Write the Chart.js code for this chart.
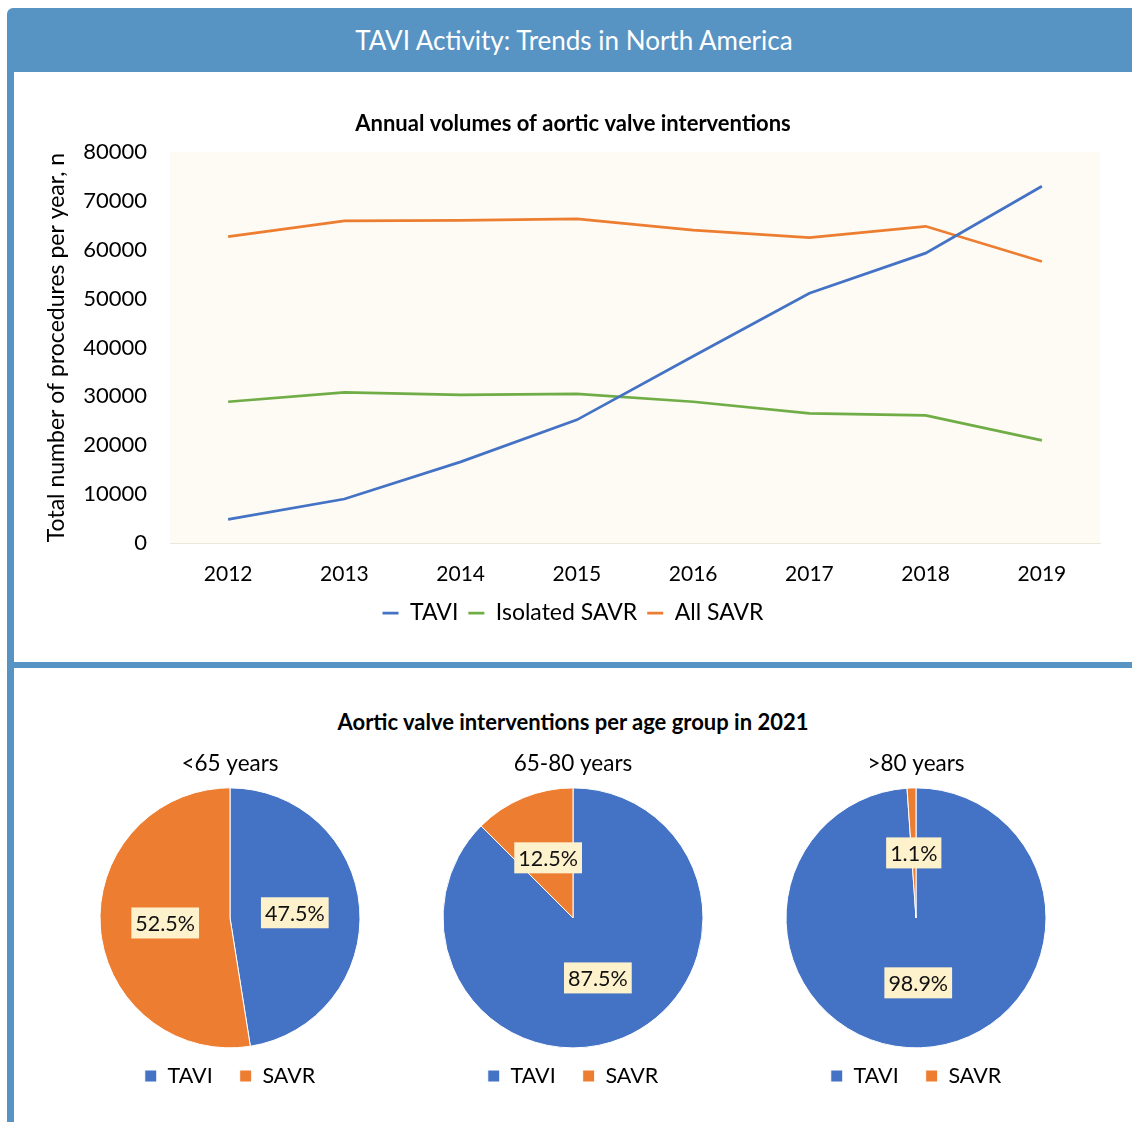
<!DOCTYPE html>
<html>
<head>
<meta charset="utf-8">
<script src="https://cdn.jsdelivr.net/npm/chart.js@4.4.0/dist/chart.umd.min.js"></script>
<style>
  body {
    margin: 0;
    width: 1132px;
    height: 1122px;
    position: relative;
    overflow: hidden;
    background: #fff;
    font-family: Lato, "Open Sans", sans-serif;
  }
  .edge {
    position: absolute;
    left: 7px;
    top: 14px;
    width: 7px;
    height: 1108px;
    background: #5793c3;
  }
  .banner {
    position: absolute;
    left: 7px;
    top: 8px;
    width: 1134px;
    height: 64px;
    background: #5793c3;
    border-top-left-radius: 6px;
    color: #fff;
    font-size: 26px;
    line-height: 64px;
    text-align: center;
  }
  .divider {
    position: absolute;
    left: 7px;
    top: 662px;
    width: 1125px;
    height: 6px;
    background: #5793c3;
  }
  .heading {
    position: absolute;
    left: 0;
    top: 708px;
    width: 1146px;
    text-align: center;
    font-weight: bold;
    font-size: 22px;
  }
  canvas { position: absolute; }
</style>
</head>
<body>
<div class="edge"></div>
<div class="banner">TAVI Activity: Trends in North America</div>
<div class="divider"></div>
<div class="heading">Aortic valve interventions per age group in 2021</div>

<canvas id="trend" width="1118" height="560" style="left:14px; top:90px;"></canvas>
<canvas id="pie1" width="300" height="360" style="left:80px; top:740px;"></canvas>
<canvas id="pie2" width="300" height="360" style="left:423px; top:740px;"></canvas>
<canvas id="pie3" width="300" height="360" style="left:766px; top:740px;"></canvas>

<script>
// annual volumes, North America
var years = ['2012', '2013', '2014', '2015', '2016', '2017', '2018', '2019'];
var tavi = [4850, 9000, 16600, 25200, 38200, 51100, 59300, 73000];
var isolatedSavr = [28900, 30800, 30300, 30500, 28900, 26500, 26100, 21000];
var allSavr = [62700, 65900, 66000, 66300, 64000, 62500, 64800, 57600];

// 2021 split by age group, percent
var pieLabels = ['TAVI', 'SAVR'];
var ageGroups = ['<65 years', '65-80 years', '>80 years'];
var under65 = [47.5, 52.5];
var age65to80 = [87.5, 12.5];
var over80 = [98.9, 1.1];

var BLUE = '#4472c4', ORANGE = '#ed7d31', GREEN = '#70ad47';

Chart.defaults.font.family = 'Lato, "Open Sans", sans-serif';
Chart.defaults.color = '#000';
Chart.defaults.animation = false;

// cream fill behind the plot area
var plotBackground = {
  id: 'plotBackground',
  beforeDraw: function(chart) {
    var a = chart.chartArea, ctx = chart.ctx;
    ctx.save();
    ctx.fillStyle = '#fdfbf4';
    ctx.fillRect(a.left, a.top, a.right - a.left, a.bottom - a.top);
    ctx.restore();
  }
};

// percentage tags sitting halfway out on each slice
var sliceTags = {
  id: 'sliceTags',
  afterDatasetsDraw: function(chart) {
    var ctx = chart.ctx;
    var meta = chart.getDatasetMeta(0);
    var values = chart.data.datasets[0].data;
    ctx.save();
    ctx.font = '21.5px Lato, "Open Sans", sans-serif';
    ctx.textAlign = 'center';
    ctx.textBaseline = 'middle';
    meta.data.forEach(function(arc, i) {
      var pos = arc.tooltipPosition();
      var text = values[i].toFixed(1) + '%';
      var w = ctx.measureText(text).width + 8;
      var h = 31;
      ctx.fillStyle = '#fef2cd';
      ctx.fillRect(pos.x - w / 2, pos.y - h / 2, w, h);
      ctx.fillStyle = '#111';
      ctx.fillText(text, pos.x, pos.y + 1);
    });
    ctx.restore();
  }
};

function seriesLine(label, data, color) {
  return {
    label: label,
    data: data,
    borderColor: color,
    backgroundColor: color,
    borderWidth: 2.75,
    pointRadius: 0,
    tension: 0,
    fill: false
  };
}

new Chart(document.getElementById('trend'), {
  type: 'line',
  data: {
    labels: years,
    datasets: [
      seriesLine('TAVI', tavi, BLUE),
      seriesLine('Isolated SAVR', isolatedSavr, GREEN),
      seriesLine('All SAVR', allSavr, ORANGE)
    ]
  },
  options: {
    responsive: false,
    layout: { padding: { top: 0, right: 0, bottom: 15.5, left: 0 } },
    plugins: {
      title: {
        display: true,
        text: 'Annual volumes of aortic valve interventions',
        font: { size: 22, weight: 'bold' },
        padding: { top: 20.8, bottom: 14.8 }
      },
      legend: {
        position: 'bottom',
        labels: {
          font: { size: 23 },
          padding: 10,
          usePointStyle: true,
          pointStyle: 'line',
          pointStyleWidth: 16
        }
      },
      tooltip: { enabled: false }
    },
    scales: {
      x: {
        offset: true,
        grid: { display: false, drawTicks: false },
        border: { display: true, color: '#ebe7db' },
        ticks: { font: { size: 21 }, padding: 18.4 },
        afterFit: function(s) { s.height = 48.5; }
      },
      y: {
        min: 0,
        max: 80000,
        grid: { display: false, drawTicks: false },
        border: { display: false },
        ticks: {
          stepSize: 10000,
          font: { size: 22 },
          padding: 23,
          callback: function(v) { return String(v); }
        },
        title: {
          display: true,
          text: 'Total number of procedures per year, n',
          font: { size: 23 },
          padding: { top: 29.2, bottom: 0 }
        },
        afterFit: function(s) { s.width = 156; }
      },
      // empty strip on the right so the plot stops short of the edge
      gutter: {
        position: 'right',
        grid: { display: false, drawTicks: false },
        border: { display: false },
        ticks: { display: false },
        afterFit: function(s) { s.width = 32; }
      }
    }
  },
  plugins: [plotBackground]
});

function agePie(id, title, values) {
  new Chart(document.getElementById(id), {
    type: 'pie',
    data: {
      labels: pieLabels,
      datasets: [{
        data: values,
        backgroundColor: [BLUE, ORANGE],
        borderColor: '#fff',
        borderWidth: 1,
        radius: 130,
        clip: false
      }]
    },
    options: {
      responsive: false,
      layout: { padding: { top: 0, right: 0, bottom: 3.25, left: 0 } },
      plugins: {
        title: {
          display: true,
          text: title,
          font: { size: 22.5, weight: 'normal' },
          padding: { top: 10.5, bottom: 20 }
        },
        legend: {
          position: 'bottom',
          labels: {
            font: { size: 21.5 },
            padding: 27,
            boxWidth: 12,
            boxHeight: 12
          }
        },
        tooltip: { enabled: false }
      }
    },
    plugins: [sliceTags]
  });
}

agePie('pie1', ageGroups[0], under65);
agePie('pie2', ageGroups[1], age65to80);
agePie('pie3', ageGroups[2], over80);
</script>
</body>
</html>
